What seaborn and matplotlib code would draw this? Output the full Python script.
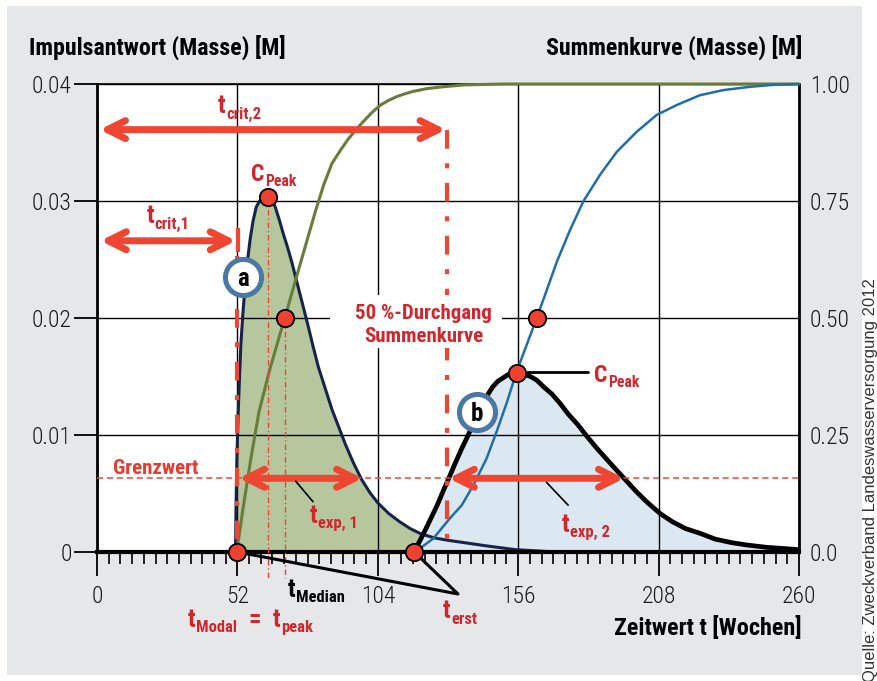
import numpy as np
import pandas as pd
import matplotlib
matplotlib.use("Agg")
import matplotlib.pyplot as plt
import seaborn as sns
from matplotlib import font_manager as fm
from matplotlib.patches import Rectangle, FancyArrowPatch
from matplotlib.ticker import MultipleLocator
from matplotlib.transforms import offset_copy

# ---------------- data ----------------
# impulse response a
t_a = [51.3, 51.5, 51.8, 52.3, 52.8, 53.3, 54.0, 54.8, 55.7, 56.7, 57.8, 59.0,
       60.5, 62.0, 63.3, 64.5, 66.0, 67.5, 69.0, 70.5, 72.0, 74.0, 76.0, 78.0,
       80.0, 82.0, 84.5, 87.0, 89.5, 92.0, 95.0, 98.0, 101.0, 104.0, 108.0,
       112.0, 116.0, 120.0, 125.0, 130.0, 136.0, 145.0, 155.0, 170.0]
c_a = [0.0, 0.004, 0.008, 0.0119, 0.0150, 0.0178, 0.0203, 0.0226, 0.0248,
       0.0267, 0.0283, 0.0295, 0.0301, 0.0303, 0.0303, 0.0302, 0.0295, 0.0284,
       0.0272, 0.0261, 0.0249, 0.0231, 0.0213, 0.0195, 0.0176, 0.0158, 0.0140,
       0.0122, 0.0107, 0.0092, 0.0076, 0.0062, 0.0051, 0.0042, 0.0033, 0.0026,
       0.0020, 0.00155, 0.0012, 0.0010, 0.0008, 0.0005, 0.0002, 0.0]
# impulse response b
t_b = [117.3, 119.0, 121.0, 123.3, 126.0, 128.0, 130.1, 132.5, 135.0, 137.5,
       140.0, 142.3, 144.3, 146.5, 148.5, 150.5, 152.5, 155.4, 158.0, 160.5,
       162.8, 165.5, 168.5, 171.5, 174.5, 178.0, 181.4, 185.0, 188.5, 192.0,
       195.6, 200.0, 204.0, 208.5, 213.0, 218.0, 223.3, 229.0, 235.0, 240.6,
       248.0, 254.0, 260.0]
c_b = [0.0, 0.0007, 0.0016, 0.0027, 0.0040, 0.0051, 0.0062, 0.0075, 0.0088,
       0.0100, 0.0113, 0.0124, 0.0133, 0.0141, 0.0146, 0.0149, 0.0152, 0.0153,
       0.0152, 0.0150, 0.0147, 0.0141, 0.0135, 0.0127, 0.0118, 0.0109, 0.0099,
       0.0089, 0.0080, 0.0071, 0.0062, 0.0051, 0.0042, 0.0033, 0.0026, 0.0020,
       0.0016, 0.0011, 0.0008, 0.0006, 0.0004, 0.0003, 0.0002]
# cumulative curve a
t_sa = [51.5, 52.5, 54.0, 55.5, 57.0, 58.5, 60.0, 62.0, 64.0, 66.0, 68.0, 69.6,
        72.0, 75.0, 78.0, 81.0, 84.0, 87.0, 90.0, 93.0, 96.0, 99.0, 102.0,
        105.0, 108.0, 111.0, 114.0, 117.0, 122.0, 128.0, 136.0, 150.0, 260.0]
s_sa = [0.0, 0.03, 0.09, 0.145, 0.20, 0.25, 0.30, 0.345, 0.39, 0.43, 0.47,
        0.50, 0.55, 0.61, 0.67, 0.73, 0.785, 0.83, 0.857, 0.882, 0.903, 0.922,
        0.94, 0.955, 0.965, 0.973, 0.979, 0.984, 0.99, 0.994, 0.998, 1.0, 1.0]
# cumulative curve b
t_sb = [117.8, 124.6, 130.7, 135.1, 139.4, 144.3, 148.0, 151.7, 155.4, 159.1,
        162.8, 166.6, 170.3, 175.2, 180.1, 186.3, 192.5, 199.9, 207.3, 214.7,
        223.3, 232.0, 241.9, 250.0, 260.0]
s_sb = [0.0, 0.029, 0.072, 0.100, 0.143, 0.200, 0.257, 0.318, 0.385, 0.442,
        0.499, 0.560, 0.620, 0.688, 0.749, 0.806, 0.855, 0.898, 0.934, 0.955,
        0.976, 0.987, 0.994, 0.998, 1.0]

x_ticks = [0, 52, 104, 156, 208, 260]
x_labels = ["0", "52", "104", "156", "208", "260"]
yl_ticks = [0, 0.01, 0.02, 0.03, 0.04]
yl_labels = ["0", "0.01", "0.02", "0.03", "0.04"]
yr_ticks = [0, 0.25, 0.5, 0.75, 1.0]
yr_labels = ["0.0", "0.25", "0.50", "0.75", "1.00"]

grenzwert = 0.0063
t_start_a, t_peak_a, c_peak_a, t_median_a = 52.0, 63.3, 0.0303, 69.6
t_start_b, t_peak_b, c_peak_b, t_median_b = 117.5, 155.4, 0.0153, 163.0
t_crit_1, t_crit_2 = 51.8, 129.7
t_exp1_end, t_exp2_end = 98.6, 195.6
y_crit_1, y_crit_2 = 0.0266, 0.0361

# ---------------- fonts ----------------
sns.set_theme(style="white")
ttf = fm.fontManager.ttflist
names = {f.name for f in ttf}
FAM, STRETCH = None, "normal"
for cand in ["Liberation Sans Narrow", "Roboto Condensed", "Open Sans Condensed",
             "Noto Sans Condensed", "Arial Narrow"]:
    if cand in names:
        FAM = cand
        break
if FAM is None:
    for f in ttf:
        if str(f.stretch) in ("condensed", "semi-condensed") and f.name in (
                "Noto Sans", "DejaVu Sans", "Roboto", "Open Sans"):
            FAM, STRETCH = f.name, str(f.stretch)
            break
if FAM is None:
    FAM = "Liberation Sans"
plt.rcParams["font.family"] = [FAM, "DejaVu Sans"]
plt.rcParams["font.stretch"] = STRETCH

RED = "#ef4631"
TRED = "#d2262d"
DOT = "#ee4130"

fig = plt.figure(figsize=(8.78, 6.81), dpi=100)
fig.patch.set_facecolor("white")
fig.add_artist(Rectangle((7 / 878, 1 - 675 / 681), 855 / 878, 669 / 681,
                         transform=fig.transFigure, facecolor="#e6e7e9",
                         edgecolor="none", zorder=-10))

ax = fig.add_axes([97 / 878, 1 - 552 / 681, 702 / 878, 468 / 681])
ax.set_facecolor("white")

df_a = pd.DataFrame({"t": t_a, "c": c_a})
df_b = pd.DataFrame({"t": t_b, "c": c_b})
df_sa = pd.DataFrame({"t": t_sa, "s": s_sa})
df_sb = pd.DataFrame({"t": t_sb, "s": s_sb})

ax.fill_between(df_a["t"], df_a["c"], color="#b6c79d", lw=0, zorder=0.3)
ax.fill_between(df_b["t"], df_b["c"], color="#dce8f1", lw=0, zorder=0.3)
sns.lineplot(data=df_a, x="t", y="c", ax=ax, color="#17244a", lw=2.2,
             estimator=None, sort=False, zorder=2)
sns.lineplot(data=df_b, x="t", y="c", ax=ax, color="black", lw=3.4,
             estimator=None, sort=False, zorder=2.1)

ax.set_axisbelow(True)
ax.grid(True, color="black", lw=1.0)
ax.set_xlim(0, 260)
ax.set_ylim(0, 0.04)
ax.set_xticks(x_ticks)
ax.set_xticklabels(x_labels)
ax.set_yticks(yl_ticks)
ax.set_yticklabels(yl_labels)
ax.xaxis.set_minor_locator(MultipleLocator(52 / 12))
ax.tick_params(axis="x", which="major", direction="out", length=17, width=1.3,
               pad=6.5, labelsize=17, color="black", labelcolor="#1a1a1a",
               bottom=True)
ax.tick_params(axis="x", which="minor", direction="out", length=8.5, width=1.2,
               color="black", bottom=True)
ax.tick_params(axis="y", which="major", direction="out", length=16.5, width=1.3,
               pad=1.5, labelsize=17, color="black", labelcolor="#1a1a1a",
               left=True)
ax.set_xlabel("")
ax.set_ylabel("")
for s in ax.spines.values():
    s.set_visible(False)

ax2 = ax.twinx()
sns.lineplot(data=df_sa, x="t", y="s", ax=ax2, color="#687d3b", lw=2.2,
             estimator=None, sort=False, zorder=3)
sns.lineplot(data=df_sb, x="t", y="s", ax=ax2, color="#1f6fa6", lw=1.8,
             estimator=None, sort=False, zorder=3)
for ln in ax2.get_lines():
    ln.set_clip_on(False)
ax2.set_ylabel("")
ax2.set_yticks(yr_ticks)
ax2.set_yticklabels(yr_labels)
ax2.tick_params(axis="y", which="major", length=0, pad=8, labelsize=17,
                labelcolor="#1a1a1a", right=True)
for lbl in (ax.get_xticklabels() + ax.get_yticklabels() +
            ax2.get_yticklabels()):
    lbl.set_fontweight("light")
for name, s in ax2.spines.items():
    s.set_color("black")
    s.set_visible(True)
ax2.spines["left"].set_linewidth(2.0)
ax2.spines["right"].set_linewidth(2.0)
ax2.spines["top"].set_linewidth(1.2)
ax2.spines["bottom"].set_linewidth(3.0)

T = ax.transData

ax2.plot([0, 260], [grenzwert, grenzwert], transform=T, color=RED, lw=1.1,
         ls=(0, (4, 2.5)), zorder=4)
ax2.plot([t_crit_2, t_crit_2], [y_crit_2, 0], transform=T, color=RED, lw=3.0,
         ls=(0, (4.5, 3.5, 1.2, 3.5)), zorder=4)
ax2.plot([t_start_a, t_start_a], [0.0253, 0], transform=T, color=RED, lw=3.0,
         ls=(0, (4.5, 3.5, 1.2, 3.5)), zorder=4)
ax2.plot([t_crit_1 + 0.3, t_crit_1 + 0.3], [0.0277, 0.0256], transform=T,
         color=RED, lw=3.0, zorder=6, solid_capstyle="butt")
for tv, top in [(t_peak_a, c_peak_a), (t_median_a, 0.0199)]:
    ax2.plot([tv, tv], [top, -0.00222], transform=T, color=RED, lw=1.0,
             ls=(0, (4, 2, 1, 2)), zorder=4, clip_on=False)


def darrow(x0, x1, y, lw=5.0):
    a = FancyArrowPatch((x0, y), (x1, y),
                        arrowstyle="<->,head_length=13,head_width=6.5",
                        mutation_scale=1, lw=lw, color=RED, transform=T,
                        shrinkA=0, shrinkB=0, capstyle="round",
                        joinstyle="round", zorder=6)
    ax2.add_patch(a)


darrow(1.0, t_crit_2 - 0.5, y_crit_2)
darrow(1.3, t_crit_1 - 0.3, y_crit_1)
darrow(t_start_a + 0.5, t_exp1_end - 0.3, grenzwert)
darrow(t_crit_2 + 0.5, t_exp2_end - 0.3, grenzwert)

ax2.plot([73.6, 80.0], [0.00605, 0.0043], transform=T, color="black", lw=1.2,
         zorder=7)
ax2.plot([166.5, 174.5], [0.00595, 0.0040], transform=T, color="black", lw=1.2,
         zorder=7)
ax2.plot([t_peak_b, 181.9], [0.01538, 0.01538], transform=T, color="black",
         lw=2.0, zorder=7)
ax2.plot([t_start_a, 133.7, t_start_b], [0, -0.00359, 0], transform=T,
         color="black", lw=2.2, zorder=7, clip_on=False)

ax2.add_patch(Rectangle((86.3, 0.01744), 63.7, 0.00453, transform=T,
                        facecolor="white", edgecolor="none", zorder=5))

for lab, tv, vv in [("a", 54.2, 0.02353), ("b", 140.6, 0.0120)]:
    ax2.plot([tv], [vv], transform=T, marker="o", ms=26, mfc="white",
             mec="#4a77a3", mew=3.6, zorder=8, clip_on=False)
    ax2.text(tv, vv, lab, transform=T, ha="center", va="center_baseline",
             fontsize=18, fontweight="bold", color="black", zorder=9)

dots_left = [(t_start_a, 0.0), (t_peak_a, c_peak_a), (t_start_b, 0.0),
             (t_peak_b, c_peak_b)]
for tv, vv in dots_left:
    ax2.plot([tv], [vv], transform=T, marker="o", ms=12.5, mfc=DOT,
             mec="black", mew=1.3, zorder=9, clip_on=False)
for tv in (t_median_a, t_median_b):
    ax2.plot([tv], [0.5], marker="o", ms=12.5, mfc=DOT, mec="black", mew=1.3,
             zorder=9, clip_on=False)

renderer = fig.canvas.get_renderer()


def rtext(x, y, s, size=18, color=TRED, ha="left", weight="bold"):
    return ax2.text(x, y, s, transform=T, ha=ha, va="baseline", fontsize=size,
                    color=color, zorder=10, clip_on=False, fontweight=weight)


def subtext(x, y, main, sub, size=18, color=TRED, tail=None):
    """main letter followed by a subscript (and optional trailing parts)."""
    t1 = rtext(x, y, main, size=size, color=color)
    w = t1.get_window_extent(renderer).width * 72 / fig.dpi
    tr = offset_copy(T, fig=fig, x=w + 0.3, y=-size * 0.22, units="points")
    t2 = ax2.text(x, y, sub, transform=tr, ha="left", va="baseline",
                  fontsize=size * 0.66, color=color, zorder=10, clip_on=False,
                  fontweight="bold")
    if tail is not None:
        w2 = t2.get_window_extent(renderer).width * 72 / fig.dpi
        tm, ts, gap = tail
        tr3 = offset_copy(T, fig=fig, x=w + w2 + gap, y=0, units="points")
        t3 = ax2.text(x, y, tm, transform=tr3, ha="left", va="baseline",
                      fontsize=size, color=color, zorder=10, clip_on=False,
                      fontweight="bold")
        w3 = t3.get_window_extent(renderer).width * 72 / fig.dpi
        tr4 = offset_copy(T, fig=fig, x=w + w2 + gap + w3 + 0.3,
                          y=-size * 0.22, units="points")
        ax2.text(x, y, ts, transform=tr4, ha="left", va="baseline",
                 fontsize=size * 0.66, color=color, zorder=10, clip_on=False,
                 fontweight="bold")


subtext(44.9, 0.03752, "t", "crit,2")
subtext(18.4, 0.02809, "t", "crit,1")
subtext(57.0, 0.0317, "C", "Peak", size=17)
subtext(184.1, 0.01456, "C", "Peak", size=17)
rtext(120.9, 0.01991, "50 %-Durchgang", size=15, ha="center")
rtext(120.9, 0.01797, "Summenkurve", size=15, ha="center")
rtext(5.9, 0.00664, "Grenzwert", size=15, color="#e53b30")
subtext(78.9, 0.0025, "t", "exp, 1")
subtext(172.1, 0.00174, "t", "exp, 2")
subtext(70.7, -0.00382, "t", "Median", color="black")
subtext(33.7, -0.00638, "t", "Modal", tail=("=  t", "peak", 9))
subtext(128.1, -0.00567, "t", "erst")

fig.text(29 / 878, 1 - 55 / 681, "Impulsantwort (Masse) [M]", ha="left",
         va="baseline", fontsize=17.2, fontweight="bold", color="black")
fig.text(802 / 878, 1 - 55 / 681, "Summenkurve (Masse) [M]", ha="right",
         va="baseline", fontsize=17.2, fontweight="bold", color="black")
fig.text(802 / 878, 1 - 635 / 681, "Zeitwert t [Wochen]", ha="right",
         va="baseline", fontsize=17.4, fontweight="bold", color="black")
fig.text(871 / 878, 1 - 682 / 681, "Quelle: Zweckverband Landeswasserversorgung 2012",
         rotation=90, ha="center", va="bottom", fontsize=12, color="#333333",
         family=["Liberation Sans", "DejaVu Sans"], fontstretch="normal")

ax.set_xlim(0, 260)
ax.set_ylim(0, 0.04)
ax2.set_ylim(0, 1)
ax2.set_xlim(0, 260)

fig.savefig("out.png", dpi=100)
